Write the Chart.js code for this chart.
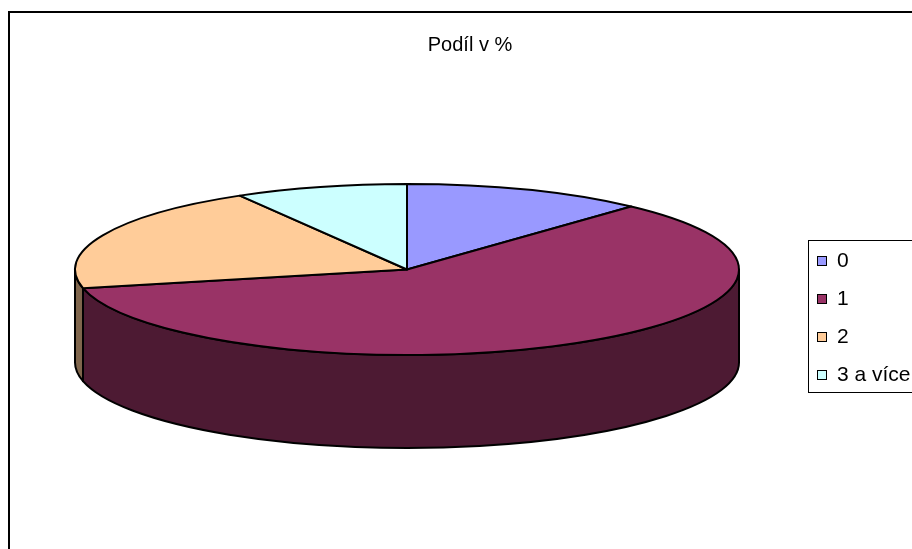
<!DOCTYPE html>
<html>
<head>
<meta charset="utf-8">
<script src="https://cdn.jsdelivr.net/npm/chart.js@4/dist/chart.umd.min.js"></script>
<style>
  html, body { margin: 0; padding: 0; background: #fff; }
  canvas { display: block; }
</style>
</head>
<body>
<canvas id="pieChart" width="912" height="549"></canvas>
<script>
const title = 'Podíl v %';
const categories = ['0', '1', '2', '3 a více'];
const shares = [11.8, 59.7, 20.1, 8.4];
const sliceColors = ['#9999FF', '#993366', '#FFCC99', '#CCFFFF'];

function darken(hex, f) {
  const n = parseInt(hex.slice(1), 16);
  const r = Math.round(((n >> 16) & 255) * f);
  const g = Math.round(((n >> 8) & 255) * f);
  const b = Math.round((n & 255) * f);
  return `rgb(${r},${g},${b})`;
}

// tilted pie: the arcs keep the angles chart.js computed, drawn on an ellipse with a side wall
const pie3d = {
  id: 'pie3d',
  beforeDatasetsDraw(chart, args, opts) {
    const ctx = chart.ctx;
    const area = chart.chartArea;
    const arcs = chart.getDatasetMeta(0).data;
    const colors = chart.data.datasets[0].backgroundColor;
    const cx = arcs[0].x, cy = arcs[0].y;
    const rx = (area.right - area.left) / 2;
    const ry = (area.bottom - area.top) / 2;
    const d = opts.depth;

    ctx.save();
    ctx.lineWidth = opts.lineWidth;
    ctx.strokeStyle = '#000';
    ctx.lineJoin = 'round';

    // front walls (only the part between 3 and 9 o'clock can be seen)
    arcs.forEach((arc, i) => {
      const a0 = Math.max(arc.startAngle, 0);
      const a1 = Math.min(arc.endAngle, Math.PI);
      if (a1 <= a0) return;
      ctx.beginPath();
      ctx.ellipse(cx, cy, rx, ry, 0, a0, a1);
      ctx.lineTo(cx + rx * Math.cos(a1), cy + d + ry * Math.sin(a1));
      ctx.ellipse(cx, cy + d, rx, ry, 0, a1, a0, true);
      ctx.closePath();
      ctx.fillStyle = darken(colors[i], 0.5);
      ctx.fill();
      ctx.stroke();
    });

    // top faces
    arcs.forEach((arc, i) => {
      ctx.beginPath();
      ctx.moveTo(cx, cy);
      ctx.ellipse(cx, cy, rx, ry, 0, arc.startAngle, arc.endAngle);
      ctx.closePath();
      ctx.fillStyle = colors[i];
      ctx.fill();
      ctx.stroke();
    });
    ctx.restore();
    return false;
  },
  afterDraw(chart, args, opts) {
    const ctx = chart.ctx;
    const colors = chart.data.datasets[0].backgroundColor;
    ctx.save();

    // outer frame
    ctx.strokeStyle = '#000';
    ctx.lineWidth = 2;
    ctx.strokeRect(9, 12, 960, 600);

    // title
    ctx.fillStyle = '#000';
    ctx.font = '20px "Liberation Sans", Arial, sans-serif';
    ctx.textAlign = 'center';
    ctx.textBaseline = 'alphabetic';
    ctx.fillText(title, 470, 51);

    // legend box
    const lg = opts.legend;
    ctx.lineWidth = 1;
    ctx.strokeRect(lg.x + 0.5, lg.y + 0.5, lg.w, lg.h);
    ctx.font = '21px "Liberation Sans", Arial, sans-serif';
    ctx.textAlign = 'left';
    ctx.textBaseline = 'middle';
    chart.data.labels.forEach((label, i) => {
      const y = lg.y + lg.first + i * lg.step;
      ctx.fillStyle = colors[i];
      ctx.fillRect(lg.x + 9, y - 4, 10, 10);
      ctx.strokeRect(lg.x + 9.5, y - 3.5, 9, 9);
      ctx.fillStyle = '#000';
      ctx.fillText(label, lg.x + 29, y + 1);
    });
    ctx.restore();
  }
};

new Chart(document.getElementById('pieChart'), {
  type: 'pie',
  data: {
    labels: categories,
    datasets: [{ data: shares, backgroundColor: sliceColors, borderColor: '#000', borderWidth: 1 }]
  },
  options: {
    responsive: false,
    animation: false,
    devicePixelRatio: 1,
    layout: { padding: { left: 75, right: 173, top: 184, bottom: 194 } },
    plugins: {
      legend: { display: false },
      tooltip: { enabled: false },
      pie3d: { depth: 93, lineWidth: 2, legend: { x: 808, y: 240, w: 120, h: 152, first: 20, step: 38 } }
    }
  },
  plugins: [pie3d]
});
</script>
</body>
</html>
